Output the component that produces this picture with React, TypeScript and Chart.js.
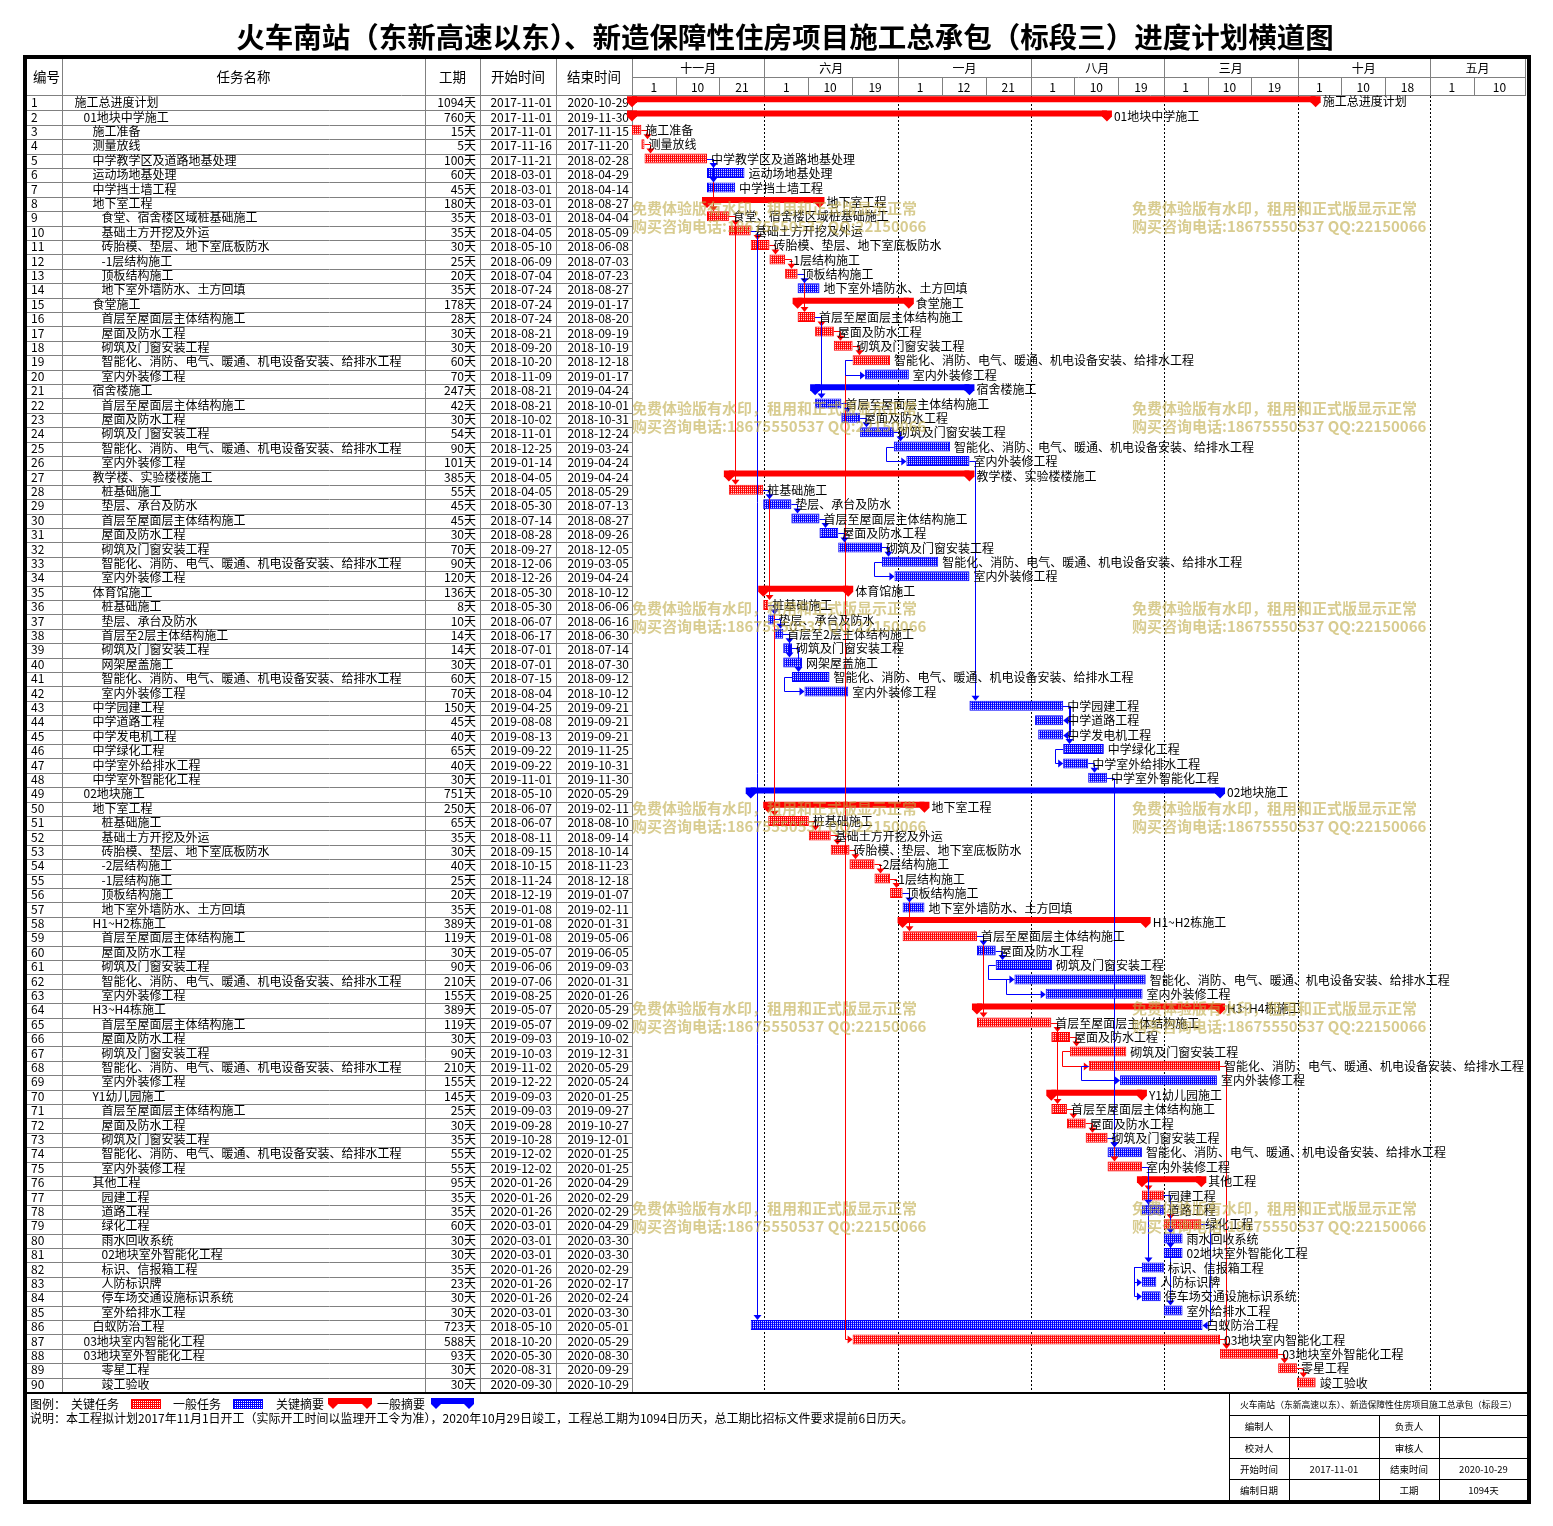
import React, { useEffect, useRef } from 'react';
import { Chart, registerables } from 'chart.js';

Chart.register(...registerables);

const W = 1553;
const H = 1526;
const FONT = '"Noto Sans CJK SC", "Noto Sans", sans-serif';

// ---------------- data ----------------
const titleText = '火车南站（东新高速以东）、新造保障性住房项目施工总承包（标段三）进度计划横道图';
const columnHeaders = ['编号', '任务名称', '工期', '开始时间', '结束时间'];

const taskNames = [
  '施工总进度计划', '01地块中学施工', '施工准备', '测量放线', '中学教学区及道路地基处理',
  '运动场地基处理', '中学挡土墙工程', '地下室工程', '食堂、宿舍楼区域桩基础施工', '基础土方开挖及外运',
  '砖胎模、垫层、地下室底板防水', '-1层结构施工', '顶板结构施工', '地下室外墙防水、土方回填', '食堂施工',
  '首层至屋面层主体结构施工', '屋面及防水工程', '砌筑及门窗安装工程', '智能化、消防、电气、暖通、机电设备安装、给排水工程', '室内外装修工程',
  '宿舍楼施工', '首层至屋面层主体结构施工', '屋面及防水工程', '砌筑及门窗安装工程', '智能化、消防、电气、暖通、机电设备安装、给排水工程',
  '室内外装修工程', '教学楼、实验楼楼施工', '桩基础施工', '垫层、承台及防水', '首层至屋面层主体结构施工',
  '屋面及防水工程', '砌筑及门窗安装工程', '智能化、消防、电气、暖通、机电设备安装、给排水工程', '室内外装修工程', '体育馆施工',
  '桩基础施工', '垫层、承台及防水', '首层至2层主体结构施工', '砌筑及门窗安装工程', '网架屋盖施工',
  '智能化、消防、电气、暖通、机电设备安装、给排水工程', '室内外装修工程', '中学园建工程', '中学道路工程', '中学发电机工程',
  '中学绿化工程', '中学室外给排水工程', '中学室外智能化工程', '02地块施工', '地下室工程',
  '桩基础施工', '基础土方开挖及外运', '砖胎模、垫层、地下室底板防水', '-2层结构施工', '-1层结构施工',
  '顶板结构施工', '地下室外墙防水、土方回填', 'H1~H2栋施工', '首层至屋面层主体结构施工', '屋面及防水工程',
  '砌筑及门窗安装工程', '智能化、消防、电气、暖通、机电设备安装、给排水工程', '室内外装修工程', 'H3~H4栋施工', '首层至屋面层主体结构施工',
  '屋面及防水工程', '砌筑及门窗安装工程', '智能化、消防、电气、暖通、机电设备安装、给排水工程', '室内外装修工程', 'Y1幼儿园施工',
  '首层至屋面层主体结构施工', '屋面及防水工程', '砌筑及门窗安装工程', '智能化、消防、电气、暖通、机电设备安装、给排水工程', '室内外装修工程',
  '其他工程', '园建工程', '道路工程', '绿化工程', '雨水回收系统',
  '02地块室外智能化工程', '标识、信报箱工程', '人防标识牌', '停车场交通设施标识系统', '室外给排水工程',
  '白蚁防治工程', '03地块室内智能化工程', '03地块室外智能化工程', '零星工程', '竣工验收',
];

const taskLevels = [
  0, 1, 2, 2, 2, 2, 2, 2, 3, 3,
  3, 3, 3, 3, 2, 3, 3, 3, 3, 3,
  2, 3, 3, 3, 3, 3, 2, 3, 3, 3,
  3, 3, 3, 3, 2, 3, 3, 3, 3, 3,
  3, 3, 2, 2, 2, 2, 2, 2, 1, 2,
  3, 3, 3, 3, 3, 3, 3, 2, 3, 3,
  3, 3, 3, 2, 3, 3, 3, 3, 3, 2,
  3, 3, 3, 3, 3, 2, 3, 3, 3, 3,
  3, 3, 3, 3, 3, 2, 1, 1, 3, 3,
];

// c = critical task, n = normal task, C = critical summary, N = normal summary
const taskKinds = [
  'C', 'C', 'c', 'c', 'c', 'n', 'n', 'C', 'c', 'c',
  'c', 'c', 'c', 'n', 'C', 'c', 'c', 'c', 'c', 'n',
  'N', 'n', 'n', 'n', 'n', 'n', 'C', 'c', 'n', 'n',
  'n', 'n', 'n', 'n', 'C', 'c', 'n', 'n', 'n', 'n',
  'n', 'n', 'n', 'n', 'n', 'n', 'n', 'n', 'N', 'C',
  'c', 'c', 'c', 'c', 'c', 'c', 'n', 'C', 'c', 'n',
  'n', 'n', 'n', 'C', 'c', 'c', 'c', 'c', 'n', 'C',
  'c', 'c', 'c', 'n', 'c', 'C', 'c', 'n', 'c', 'n',
  'n', 'n', 'n', 'n', 'n', 'n', 'c', 'c', 'c', 'c',
];

const taskDurations = [
  1094, 760, 15, 5, 100, 60, 45, 180, 35, 35,
  30, 25, 20, 35, 178, 28, 30, 30, 60, 70,
  247, 42, 30, 54, 90, 101, 385, 55, 45, 45,
  30, 70, 90, 120, 136, 8, 10, 14, 14, 30,
  60, 70, 150, 45, 40, 65, 40, 30, 751, 250,
  65, 35, 30, 40, 25, 20, 35, 389, 119, 30,
  90, 210, 155, 389, 119, 30, 90, 210, 155, 145,
  25, 30, 35, 55, 55, 95, 35, 35, 60, 30,
  30, 35, 23, 30, 30, 723, 588, 93, 30, 30,
];

const taskStarts = [
  '2017-11-01', '2017-11-01', '2017-11-01', '2017-11-16', '2017-11-21', '2018-03-01', '2018-03-01', '2018-03-01', '2018-03-01', '2018-04-05',
  '2018-05-10', '2018-06-09', '2018-07-04', '2018-07-24', '2018-07-24', '2018-07-24', '2018-08-21', '2018-09-20', '2018-10-20', '2018-11-09',
  '2018-08-21', '2018-08-21', '2018-10-02', '2018-11-01', '2018-12-25', '2019-01-14', '2018-04-05', '2018-04-05', '2018-05-30', '2018-07-14',
  '2018-08-28', '2018-09-27', '2018-12-06', '2018-12-26', '2018-05-30', '2018-05-30', '2018-06-07', '2018-06-17', '2018-07-01', '2018-07-01',
  '2018-07-15', '2018-08-04', '2019-04-25', '2019-08-08', '2019-08-13', '2019-09-22', '2019-09-22', '2019-11-01', '2018-05-10', '2018-06-07',
  '2018-06-07', '2018-08-11', '2018-09-15', '2018-10-15', '2018-11-24', '2018-12-19', '2019-01-08', '2019-01-08', '2019-01-08', '2019-05-07',
  '2019-06-06', '2019-07-06', '2019-08-25', '2019-05-07', '2019-05-07', '2019-09-03', '2019-10-03', '2019-11-02', '2019-12-22', '2019-09-03',
  '2019-09-03', '2019-09-28', '2019-10-28', '2019-12-02', '2019-12-02', '2020-01-26', '2020-01-26', '2020-01-26', '2020-03-01', '2020-03-01',
  '2020-03-01', '2020-01-26', '2020-01-26', '2020-01-26', '2020-03-01', '2018-05-10', '2018-10-20', '2020-05-30', '2020-08-31', '2020-09-30',
];

const taskEnds = [
  '2020-10-29', '2019-11-30', '2017-11-15', '2017-11-20', '2018-02-28', '2018-04-29', '2018-04-14', '2018-08-27', '2018-04-04', '2018-05-09',
  '2018-06-08', '2018-07-03', '2018-07-23', '2018-08-27', '2019-01-17', '2018-08-20', '2018-09-19', '2018-10-19', '2018-12-18', '2019-01-17',
  '2019-04-24', '2018-10-01', '2018-10-31', '2018-12-24', '2019-03-24', '2019-04-24', '2019-04-24', '2018-05-29', '2018-07-13', '2018-08-27',
  '2018-09-26', '2018-12-05', '2019-03-05', '2019-04-24', '2018-10-12', '2018-06-06', '2018-06-16', '2018-06-30', '2018-07-14', '2018-07-30',
  '2018-09-12', '2018-10-12', '2019-09-21', '2019-09-21', '2019-09-21', '2019-11-25', '2019-10-31', '2019-11-30', '2020-05-29', '2019-02-11',
  '2018-08-10', '2018-09-14', '2018-10-14', '2018-11-23', '2018-12-18', '2019-01-07', '2019-02-11', '2020-01-31', '2019-05-06', '2019-06-05',
  '2019-09-03', '2020-01-31', '2020-01-26', '2020-05-29', '2019-09-02', '2019-10-02', '2019-12-31', '2020-05-29', '2020-05-24', '2020-01-25',
  '2019-09-27', '2019-10-27', '2019-12-01', '2020-01-25', '2020-01-25', '2020-04-29', '2020-02-29', '2020-02-29', '2020-04-29', '2020-03-30',
  '2020-03-30', '2020-02-29', '2020-02-17', '2020-02-24', '2020-03-30', '2020-05-01', '2020-05-29', '2020-08-30', '2020-09-29', '2020-10-29',
];

// dependency links: [predecessor id, successor id, type]
const taskLinks: [number, number, string][] = [
  [3, 4, 'FS'], [4, 5, 'FS'], [5, 6, 'FS'], [5, 7, 'FS'], [5, 9, 'FS'], [9, 10, 'FS'], [9, 28, 'FS'],
  [10, 11, 'FS'], [10, 86, 'FS'], [11, 12, 'FS'], [12, 13, 'FS'], [13, 14, 'FS'], [13, 16, 'FS'],
  [16, 17, 'FS'], [16, 22, 'FS'], [17, 18, 'FS'], [18, 19, 'FS'], [19, 20, 'SS'], [19, 87, 'SS'],
  [22, 23, 'FS'], [23, 24, 'FS'], [24, 25, 'FS'], [25, 26, 'SS'], [26, 43, 'FS'],
  [28, 29, 'FS'], [28, 36, 'FS'], [29, 30, 'FS'], [30, 31, 'FS'], [31, 32, 'FS'], [32, 33, 'FS'], [33, 34, 'SS'],
  [36, 37, 'FS'], [36, 51, 'FS'], [37, 38, 'FS'], [38, 39, 'FS'], [38, 40, 'FS'], [39, 41, 'FS'], [41, 42, 'SS'],
  [43, 44, 'FF'], [43, 45, 'FF'], [43, 46, 'FS'], [46, 47, 'SS'], [47, 48, 'FS'], [48, 74, 'FS'],
  [51, 52, 'FS'], [52, 53, 'FS'], [53, 54, 'FS'], [54, 55, 'FS'], [55, 56, 'FS'], [56, 57, 'FS'], [56, 59, 'FS'],
  [59, 60, 'FS'], [59, 65, 'FS'], [60, 61, 'FS'], [61, 62, 'SS'], [62, 63, 'SS'],
  [65, 66, 'FS'], [65, 71, 'FS'], [66, 67, 'FS'], [67, 68, 'SS'], [68, 69, 'SS'], [68, 88, 'FS'],
  [71, 72, 'FS'], [72, 73, 'FS'], [73, 74, 'FS'], [73, 75, 'FS'],
  [75, 77, 'FS'], [75, 78, 'FS'], [75, 82, 'FS'], [77, 79, 'FS'], [77, 80, 'FS'], [77, 81, 'FS'], [77, 85, 'FS'],
  [79, 86, 'FF'], [82, 83, 'SS'], [82, 84, 'SS'], [87, 88, 'FS'], [88, 89, 'FS'], [89, 90, 'FS'],
];

const timelineStart = '2017-11-01';
const timelineEnd = '2021-09-30';
const topTierLabels = ['十一月', '六月', '一月', '八月', '三月', '十月', '五月'];
const topTierDates = ['2017-11-01', '2018-06-01', '2019-01-01', '2019-08-01', '2020-03-01', '2020-10-01', '2021-05-01'];
const bottomTierLabels = ['1', '10', '21', '1', '10', '19', '1', '12', '21', '1', '10', '19', '1', '10', '19', '1', '10', '18', '1', '10'];
const bottomTierDates = [
  '2017-11-01', '2018-01-10', '2018-03-21', '2018-06-01', '2018-08-10', '2018-10-19', '2019-01-01', '2019-03-12', '2019-05-21',
  '2019-08-01', '2019-10-10', '2019-12-19', '2020-03-01', '2020-05-10', '2020-07-19', '2020-10-01', '2020-12-10', '2021-02-18',
  '2021-05-01', '2021-07-10',
];

const legendTitle = '图例：';
const legendLabels = ['关键任务', '一般任务', '关键摘要', '一般摘要'];
const noteText = '说明：本工程拟计划2017年11月1日开工（实际开工时间以监理开工令为准），2020年10月29日竣工，工程总工期为1094日历天，总工期比招标文件要求提前6日历天。';
const infoTitle = '火车南站（东新高速以东）、新造保障性住房项目施工总承包（标段三）';
const infoCells = [
  ['编制人', '', '负责人', ''],
  ['校对人', '', '审核人', ''],
  ['开始时间', '2017-11-01', '结束时间', '2020-10-29'],
  ['编制日期', '', '工期', '1094天'],
];
const watermarkLines = ['免费体验版有水印，租用和正式版显示正常', '购买咨询电话:18675550537 QQ:22150066'];

// ---------------- helpers / layout ----------------
const RED = '#ff0000';
const BLUE = '#0000ff';
const GRID = '#808080';
const COLS = [27, 62, 425, 480, 556, 632];
const AREA = { left: 632, right: 1525, top: 96, bottom: 1392 };
const HEADER_TOP = 58;
const HEADER_MID = 77;
const TASK_DY = -2.2;
const SUM_DY = -4;
const TASK_H = 10;
const SUM_H = 6;

const ORIGIN = (() => {
  const [y, m, d] = timelineStart.split('-').map(Number);
  return Date.UTC(y, m - 1, d);
})();
function dayIndex(s: string): number {
  const [y, m, d] = s.split('-').map(Number);
  return Math.round((Date.UTC(y, m - 1, d) - ORIGIN) / 86400000);
}
const isCrit = (i: number) => taskKinds[i] === 'c' || taskKinds[i] === 'C';
const isSummary = (i: number) => taskKinds[i] === 'C' || taskKinds[i] === 'N';

function makePattern(color: string): CanvasPattern | string {
  const c = document.createElement('canvas');
  c.width = 2;
  c.height = 2;
  const g = c.getContext('2d');
  if (!g) return color;
  g.fillStyle = color;
  g.fillRect(0, 0, 2, 2);
  g.fillStyle = '#ffffff';
  g.fillRect(1, 1, 1, 1);
  return g.createPattern(c, 'repeat') || color;
}

function drawCap(ctx: CanvasRenderingContext2D, c: number, top: number, h: number) {
  ctx.beginPath();
  ctx.moveTo(c - 5, top);
  ctx.lineTo(c + 5, top);
  ctx.lineTo(c + 5, top + h);
  ctx.lineTo(c, top + 11);
  ctx.lineTo(c - 5, top + h);
  ctx.closePath();
  ctx.fill();
}

function hLine(ctx: CanvasRenderingContext2D, x0: number, x1: number, y: number) {
  ctx.beginPath();
  ctx.moveTo(x0, Math.round(y) + 0.5);
  ctx.lineTo(x1, Math.round(y) + 0.5);
  ctx.stroke();
}
function vLine(ctx: CanvasRenderingContext2D, x: number, y0: number, y1: number) {
  ctx.beginPath();
  ctx.moveTo(Math.round(x) + 0.5, y0);
  ctx.lineTo(Math.round(x) + 0.5, y1);
  ctx.stroke();
}

export default function App() {
  const ref = useRef<HTMLCanvasElement>(null);

  useEffect(() => {
    document.body.style.margin = '0';
    const canvas = ref.current;
    if (!canvas) return;

    const redPat = makePattern(RED);
    const bluePat = makePattern(BLUE);

    const seriesFor = (kind: string) =>
      taskStarts.map((s, i) => (taskKinds[i] === kind ? [dayIndex(s), dayIndex(taskEnds[i]) + 1] : null));

    const datasets: any[] = [
      { label: '关键任务', data: seriesFor('c'), backgroundColor: redPat, borderColor: RED, borderWidth: 1, barThickness: TASK_H, dy: TASK_DY },
      { label: '一般任务', data: seriesFor('n'), backgroundColor: bluePat, borderColor: BLUE, borderWidth: 1, barThickness: TASK_H, dy: TASK_DY },
      { label: '关键摘要', data: seriesFor('C'), backgroundColor: RED, borderWidth: 0, barThickness: SUM_H, dy: SUM_DY, summary: true },
      { label: '一般摘要', data: seriesFor('N'), backgroundColor: BLUE, borderWidth: 0, barThickness: SUM_H, dy: SUM_DY, summary: true },
    ].map((d) => ({ ...d, grouped: false, borderSkipped: false, inflateAmount: 0, clip: false }));

    const ganttPlugin: any = {
      id: 'gantt',
      beforeDraw(chart: any) {
        const ctx: CanvasRenderingContext2D = chart.ctx;
        const xs = chart.scales.x;
        const ys = chart.scales.y;
        const rowH = (AREA.bottom - AREA.top) / taskNames.length;
        ctx.save();
        ctx.fillStyle = '#ffffff';
        ctx.fillRect(0, 0, W, H);

        // title
        ctx.fillStyle = '#000';
        ctx.font = `bold 28.5px ${FONT}`;
        ctx.textAlign = 'center';
        ctx.textBaseline = 'middle';
        ctx.fillText(titleText, 785, 37);

        // table grid
        ctx.strokeStyle = GRID;
        ctx.lineWidth = 1;
        for (let i = 0; i < taskNames.length; i++) {
          const top = ys.getPixelForValue(i) - rowH / 2;
          if (i > 0) hLine(ctx, COLS[0], COLS[5], top);
        }
        for (let c = 1; c < COLS.length; c++) vLine(ctx, COLS[c], HEADER_TOP, AREA.bottom);
        hLine(ctx, COLS[0], AREA.right, AREA.top - 1);
        hLine(ctx, AREA.left, AREA.right, HEADER_MID);
        vLine(ctx, AREA.right, HEADER_TOP, AREA.top);

        // header labels
        ctx.fillStyle = '#000';
        ctx.font = `13.5px ${FONT}`;
        const hy = (HEADER_TOP + AREA.top) / 2;
        for (let c = 0; c < columnHeaders.length; c++) {
          ctx.fillText(columnHeaders[c], (COLS[c] + COLS[c + 1]) / 2 + (c === 0 ? 2 : 0), hy);
        }

        // timescale
        ctx.font = `12px ${FONT}`;
        for (let k = 0; k < topTierDates.length; k++) {
          const x0 = xs.getPixelForValue(dayIndex(topTierDates[k]));
          const x1 = k + 1 < topTierDates.length ? xs.getPixelForValue(dayIndex(topTierDates[k + 1])) : AREA.right;
          if (k > 0) {
            ctx.strokeStyle = GRID;
            ctx.setLineDash([]);
            vLine(ctx, x0, HEADER_TOP, AREA.top);
          }
          ctx.fillStyle = '#000';
          ctx.fillText(topTierLabels[k], (x0 + x1) / 2, (HEADER_TOP + HEADER_MID) / 2 + 0.5);
        }
        for (let k = 0; k < bottomTierDates.length; k++) {
          const x0 = xs.getPixelForValue(dayIndex(bottomTierDates[k]));
          const x1 = k + 1 < bottomTierDates.length ? xs.getPixelForValue(dayIndex(bottomTierDates[k + 1])) : AREA.right;
          ctx.strokeStyle = GRID;
          if (k > 0) vLine(ctx, x0, HEADER_MID, AREA.top);
          ctx.fillText(bottomTierLabels[k], (x0 + x1) / 2, (HEADER_MID + AREA.top) / 2 + 0.5);
        }

        // dotted gridlines
        ctx.strokeStyle = '#000';
        ctx.setLineDash([2, 2]);
        for (let k = 1; k < topTierDates.length; k++) {
          vLine(ctx, xs.getPixelForValue(dayIndex(topTierDates[k])), AREA.top, AREA.bottom);
        }
        ctx.setLineDash([]);

        // table text
        ctx.font = `12px ${FONT}`;
        ctx.textBaseline = 'middle';
        for (let i = 0; i < taskNames.length; i++) {
          const cy = ys.getPixelForValue(i) - 0.5;
          ctx.textAlign = 'left';
          ctx.fillText(String(i + 1), 31, cy);
          ctx.fillText(taskNames[i], 74.5 + taskLevels[i] * 9, cy);
          ctx.textAlign = 'right';
          ctx.fillText(`${taskDurations[i]}天`, COLS[3] - 4, cy);
          ctx.fillText(taskStarts[i], COLS[4] - 4, cy);
          ctx.fillText(taskEnds[i], COLS[5] - 3, cy);
        }
        ctx.restore();
      },
      beforeDatasetDraw(chart: any, args: any) {
        const ds = chart.data.datasets[args.index];
        chart.ctx.save();
        chart.ctx.translate(0, ds.dy || 0);
      },
      afterDatasetDraw(chart: any, args: any) {
        const ctx: CanvasRenderingContext2D = chart.ctx;
        const ds = chart.data.datasets[args.index];
        if (ds.summary) {
          const meta = chart.getDatasetMeta(args.index);
          ctx.fillStyle = ds.backgroundColor;
          meta.data.forEach((el: any, i: number) => {
            if (ds.data[i] == null) return;
            const p = el.getProps(['x', 'base', 'y', 'height'], true);
            const top = p.y - p.height / 2;
            drawCap(ctx, Math.min(p.x, p.base), top, p.height);
            drawCap(ctx, Math.max(p.x, p.base), top, p.height);
          });
        }
        ctx.restore();
      },
      afterDatasetsDraw(chart: any) {
        const ctx: CanvasRenderingContext2D = chart.ctx;
        const xs = chart.scales.x;
        const ys = chart.scales.y;
        const px = (s: string, plus = 0) => xs.getPixelForValue(dayIndex(s) + plus);
        const r = (v: number) => Math.round(v) + 0.5;
        ctx.save();

        // links (critical first, normal on top)
        ctx.lineWidth = 1;
        for (const wantRed of [true, false]) {
          for (const [a, b, t] of taskLinks) {
            const ia = a - 1;
            const ib = b - 1;
            const red = isCrit(ia) && isCrit(ib);
            if (red !== wantRed) continue;
            const col = red ? RED : BLUE;
            ctx.strokeStyle = col;
            ctx.fillStyle = col;
            const ya = r(ys.getPixelForValue(ia) + TASK_DY);
            const yb = ys.getPixelForValue(ib) + TASK_DY;
            const ps = px(taskStarts[ia]);
            const pe = px(taskEnds[ia], 1);
            const ss = px(taskStarts[ib]);
            const se = px(taskEnds[ib], 1);
            ctx.beginPath();
            if (t === 'FS') {
              const xv = r(ss + 6);
              const tip = yb - TASK_H / 2;
              ctx.moveTo(pe, ya);
              ctx.lineTo(xv, ya);
              ctx.lineTo(xv, tip - 4);
              ctx.stroke();
              ctx.beginPath();
              ctx.moveTo(xv - 4, tip - 5);
              ctx.lineTo(xv + 4, tip - 5);
              ctx.lineTo(xv, tip);
              ctx.closePath();
              ctx.fill();
            } else if (t === 'SS') {
              const xl = r(ps - 8);
              const yy = r(yb);
              ctx.moveTo(ps, ya);
              ctx.lineTo(xl, ya);
              ctx.lineTo(xl, yy);
              ctx.lineTo(ss - 4, yy);
              ctx.stroke();
              ctx.beginPath();
              ctx.moveTo(ss - 5, yy - 4);
              ctx.lineTo(ss - 5, yy + 4);
              ctx.lineTo(ss, yy);
              ctx.closePath();
              ctx.fill();
            } else {
              const xr = r(Math.max(pe, se) + 7);
              const yy = r(yb);
              ctx.moveTo(pe, ya);
              ctx.lineTo(xr, ya);
              ctx.lineTo(xr, yy);
              ctx.lineTo(se + 4, yy);
              ctx.stroke();
              ctx.beginPath();
              ctx.moveTo(se + 5, yy - 4);
              ctx.lineTo(se + 5, yy + 4);
              ctx.lineTo(se, yy);
              ctx.closePath();
              ctx.fill();
            }
          }
        }

        // bar labels
        ctx.fillStyle = '#000';
        ctx.font = `12px ${FONT}`;
        ctx.textAlign = 'left';
        ctx.textBaseline = 'middle';
        for (let i = 0; i < taskNames.length; i++) {
          const xe = px(taskEnds[i], 1);
          const x = isSummary(i) ? xe + 7 : xe + 4;
          ctx.fillText(taskNames[i], x, ys.getPixelForValue(i) - 1.5);
        }

        // bottom separator
        ctx.strokeStyle = '#000';
        ctx.lineWidth = 2;
        ctx.beginPath();
        ctx.moveTo(COLS[0], AREA.bottom + 1);
        ctx.lineTo(1528, AREA.bottom + 1);
        ctx.stroke();
        ctx.lineWidth = 1;

        // legend
        const ly = 1404;
        ctx.fillStyle = '#000';
        ctx.fillText(legendTitle, 30, ly);
        ctx.fillText(legendLabels[0], 71, ly);
        ctx.fillStyle = redPat as any;
        ctx.fillRect(131, 1399, 30, 10);
        ctx.strokeStyle = RED;
        ctx.strokeRect(131.5, 1399.5, 29, 9);
        ctx.fillStyle = '#000';
        ctx.fillText(legendLabels[1], 173, ly);
        ctx.fillStyle = bluePat as any;
        ctx.fillRect(233, 1399, 30, 10);
        ctx.strokeStyle = BLUE;
        ctx.strokeRect(233.5, 1399.5, 29, 9);
        ctx.fillStyle = '#000';
        ctx.fillText(legendLabels[2], 276, ly);
        ctx.fillStyle = RED;
        ctx.fillRect(333, 1398, 34, SUM_H);
        drawCap(ctx, 333, 1398, SUM_H);
        drawCap(ctx, 367, 1398, SUM_H);
        ctx.fillStyle = '#000';
        ctx.fillText(legendLabels[3], 377, ly);
        ctx.fillStyle = BLUE;
        ctx.fillRect(436, 1398, 33, SUM_H);
        drawCap(ctx, 436, 1398, SUM_H);
        drawCap(ctx, 469, 1398, SUM_H);
        ctx.fillStyle = '#000';
        ctx.fillText(noteText, 30, 1418);

        // info table
        ctx.strokeStyle = '#000';
        ctx.lineWidth = 1;
        const ix = [1229, 1289, 1379, 1439, 1528];
        const iy = [1393, 1415, 1437, 1458, 1479, 1501];
        vLine(ctx, ix[0], iy[0], iy[5]);
        for (let k = 1; k < 4; k++) vLine(ctx, ix[k], iy[1], iy[5]);
        for (let k = 1; k < 5; k++) hLine(ctx, ix[0], ix[4], iy[k]);
        ctx.textAlign = 'center';
        ctx.font = `8.8px ${FONT}`;
        ctx.fillText(infoTitle, (ix[0] + ix[4]) / 2, (iy[0] + iy[1]) / 2 + 1);
        ctx.font = `9.5px ${FONT}`;
        for (let rI = 0; rI < infoCells.length; rI++) {
          for (let cI = 0; cI < 4; cI++) {
            const t = infoCells[rI][cI];
            if (t) ctx.fillText(t, (ix[cI] + ix[cI + 1]) / 2, (iy[rI + 1] + iy[rI + 2]) / 2 + 0.5);
          }
        }

        // frame
        ctx.lineWidth = 4;
        ctx.strokeRect(25, 57, 1504, 1445);

        // watermarks
        ctx.textAlign = 'left';
        ctx.fillStyle = 'rgba(190,170,70,0.6)';
        ctx.font = `bold 15px ${FONT}`;
        for (const wy of [208, 408, 608, 808, 1008, 1208]) {
          for (const wx of [632, 1132]) {
            ctx.fillText(watermarkLines[0], wx, wy);
            ctx.fillText(watermarkLines[1], wx, wy + 18);
          }
        }
        ctx.restore();
      },
    };

    const chart = new Chart(canvas, {
      type: 'bar',
      data: { labels: taskNames.map((_, i) => String(i + 1)), datasets },
      options: {
        indexAxis: 'y',
        responsive: false,
        animation: false,
        devicePixelRatio: 1,
        events: [],
        layout: { padding: { left: AREA.left, right: W - AREA.right, top: AREA.top, bottom: H - AREA.bottom } },
        scales: {
          x: { type: 'linear', min: dayIndex(timelineStart), max: dayIndex(timelineEnd), display: false },
          y: { type: 'category', display: false, offset: true },
        },
        plugins: { legend: { display: false }, title: { display: false }, tooltip: { enabled: false } },
      } as any,
      plugins: [ganttPlugin],
    });
    return () => chart.destroy();
  }, []);

  return <canvas ref={ref} width={W} height={H} style={{ display: 'block', width: W, height: H }} />;
}
